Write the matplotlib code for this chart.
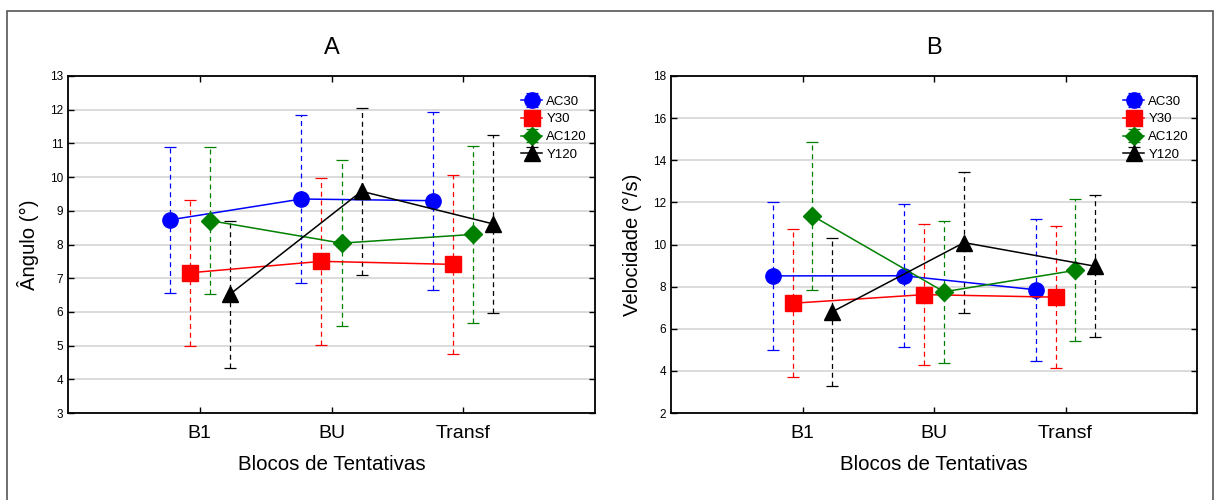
import matplotlib.pyplot as plt
import numpy as np
from matplotlib.patches import Rectangle

plt.rcParams['font.family'] = ['Liberation Sans', 'DejaVu Sans']

blocos = ["B1", "BU", "Transf"]
grupos = ["AC30", "Y30", "AC120", "Y120"]
cores = ["#0000ff", "#ff0000", "#008000", "#000000"]
marcadores = ["o", "s", "D", "^"]

# Panel A - angulo (media, meia-largura do intervalo)
ang_media = {
    "AC30": [8.73, 9.35, 9.30],
    "Y30": [7.16, 7.50, 7.41],
    "AC120": [8.71, 8.04, 8.30],
    "Y120": [6.52, 9.58, 8.61],
}
ang_erro = {
    "AC30": [2.17, 2.49, 2.64],
    "Y30": [2.16, 2.47, 2.645],
    "AC120": [2.175, 2.47, 2.63],
    "Y120": [2.18, 2.475, 2.645],
}

# Panel B - velocidade
vel_media = {
    "AC30": [8.51, 8.515, 7.85],
    "Y30": [7.21, 7.62, 7.50],
    "AC120": [11.36, 7.755, 8.775],
    "Y120": [6.81, 10.09, 8.965],
}
vel_erro = {
    "AC30": [3.51, 3.385, 3.37],
    "Y30": [3.52, 3.36, 3.37],
    "AC120": [3.51, 3.365, 3.375],
    "Y120": [3.51, 3.36, 3.375],
}

offsets = [-0.228, -0.076, 0.076, 0.228]
msizes = [11, 11, 9, 11]

fig = plt.figure(figsize=(12.16, 5), dpi=100)
fig.patches.append(Rectangle((7 / 1216, -0.01), 1206 / 1216, 1 - 11 / 500 + 0.01,
                             transform=fig.transFigure, fill=False,
                             edgecolor="#555555", linewidth=1.2))

ax_a = fig.add_axes([68 / 1216, 1 - 413 / 500, 527 / 1216, 337 / 500])
ax_b = fig.add_axes([671 / 1216, 1 - 413 / 500, 526 / 1216, 337 / 500])


def painel(ax, medias, erros, titulo, ylabel, ylim, yticks):
    x = np.arange(1, len(blocos) + 1)
    for g, c, m, off, ms in zip(grupos, cores, marcadores, offsets, msizes):
        eb = ax.errorbar(x + off, medias[g], yerr=erros[g], color=c, marker=m,
                         markersize=ms, linewidth=1.1, elinewidth=0.9,
                         capsize=4, capthick=0.9, label=g, zorder=3)
        eb[-1][0].set_linestyle((0, (4, 3)))
    ax.set_xlim(0, 4)
    ax.set_ylim(*ylim)
    ax.set_yticks(yticks)
    ax.set_xticks(x)
    ax.set_xticklabels(blocos, fontsize=14)
    ax.tick_params(axis="x", pad=9)
    ax.tick_params(axis="y", labelsize=8.5)
    ax.tick_params(direction="in", top=True, right=True, length=4, width=1)
    ax.yaxis.grid(True, color="#d9d9d9", linewidth=1.3)
    ax.set_axisbelow(True)
    for s in ax.spines.values():
        s.set_linewidth(1.3)
    ax.set_title(titulo, fontsize=17, pad=16)
    ax.set_xlabel("Blocos de Tentativas", fontsize=14.8, labelpad=9)
    ax.set_ylabel(ylabel, fontsize=14.6, labelpad=8)
    ax.legend(loc="upper left", bbox_to_anchor=(0.85, 0.958), frameon=False,
              fontsize=9.5, handlelength=1.6, handletextpad=0.3,
              labelspacing=0.42, borderaxespad=0)


painel(ax_a, ang_media, ang_erro, "A", "Ângulo (°)", (3, 13), range(3, 14))
painel(ax_b, vel_media, vel_erro, "B", "Velocidade (°/s)", (2, 18), range(2, 19, 2))

fig.savefig("out.png", dpi=100)
